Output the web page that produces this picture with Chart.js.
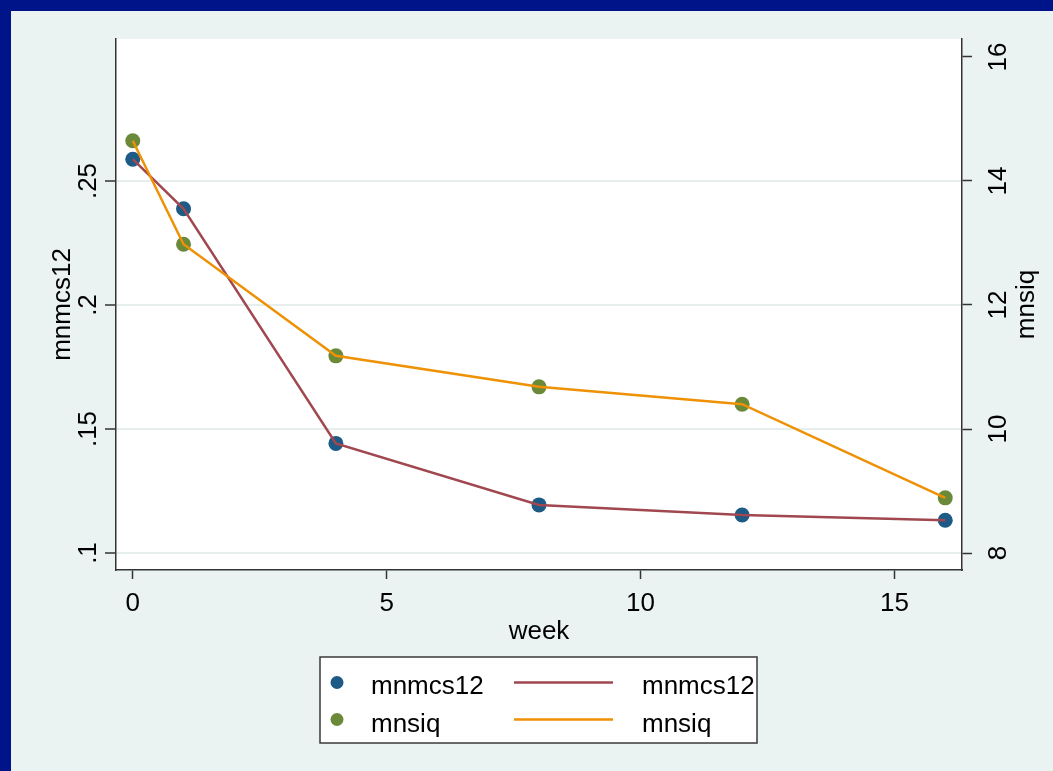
<!DOCTYPE html>
<html>
<head>
<meta charset="utf-8">
<title>mnmcs12 and mnsiq by week</title>
<script src="https://cdn.jsdelivr.net/npm/chart.js@4/dist/chart.umd.min.js"></script>
<style>
  html, body { margin: 0; padding: 0; background: #eaf3f2; }
  #chart { display: block; }
</style>
</head>
<body>
<canvas id="chart" width="1053" height="771"></canvas>
<script>
// Weekly means
const weeks = [0, 1, 4, 8, 12, 16];
const mnmcs12 = [0.2588, 0.2388, 0.1442, 0.1194, 0.1153, 0.1132];
const mnsiq = [14.65, 12.98, 11.18, 10.68, 10.40, 8.89];

// Axis ticks
const weekTicks = [0, 5, 10, 15];
const leftTicks = [0.1, 0.15, 0.2, 0.25];
const leftTickLabels = ['.1', '.15', '.2', '.25'];
const rightTicks = [8, 10, 12, 14, 16];
const rightTickLabels = ['8', '10', '12', '14', '16'];

const FONT = '"Liberation Sans", Arial, Helvetica, sans-serif';
const INK = '#333333';
const COLORS = {
  mcsMarker: '#1d5a86',
  siqMarker: '#6a8a3a',
  mcsLine: '#a0474f',
  siqLine: '#ee9105'
};

const pts = (ys) => weeks.map((w, i) => ({ x: w, y: ys[i] }));

// Page frame: navy strips, pale backdrop, white plot region
const framePlugin = {
  id: 'frame',
  beforeDraw(chart) {
    const { ctx, width, height, chartArea: a } = chart;
    ctx.save();
    ctx.fillStyle = '#eaf3f2';
    ctx.fillRect(0, 0, width, height);
    ctx.fillStyle = '#001489';
    ctx.fillRect(0, 0, 11, height);
    ctx.fillRect(0, 0, width, 11);
    ctx.fillStyle = '#ffffff';
    ctx.fillRect(a.left, a.top, a.right - a.left, a.bottom - a.top);
    ctx.restore();
  }
};

// Vertical tick labels, axis titles and the two-column key
const textPlugin = {
  id: 'texts',
  afterDraw(chart) {
    const { ctx, chartArea: a } = chart;
    const yL = chart.scales.y, yR = chart.scales.y2, x = chart.scales.x;
    ctx.save();
    ctx.fillStyle = '#000';
    ctx.font = '26px ' + FONT;
    ctx.textAlign = 'center';
    ctx.textBaseline = 'alphabetic';

    const vtext = (txt, bx, cy) => {
      ctx.save();
      ctx.translate(bx, cy);
      ctx.rotate(-Math.PI / 2);
      ctx.fillText(txt, 0, 0);
      ctx.restore();
    };

    leftTicks.forEach((v, i) => vtext(leftTickLabels[i], 96, yL.getPixelForValue(v)));
    rightTicks.forEach((v, i) => vtext(rightTickLabels[i], 1006, yR.getPixelForValue(v)));

    const midY = (a.top + a.bottom) / 2;
    vtext('mnmcs12', 70, midY);
    vtext('mnsiq', 1034, midY);
    ctx.fillText('week', (a.left + a.right) / 2, 639);

    // key
    ctx.fillStyle = '#ffffff';
    ctx.fillRect(320, 657, 437, 86);
    ctx.strokeStyle = '#3a3a3a';
    ctx.lineWidth = 1.5;
    ctx.strokeRect(320, 657, 437, 86);

    const ds = chart.data.datasets;
    const rows = [
      { marker: ds[0], line: ds[2], cy: 682.5, base: 694 },
      { marker: ds[1], line: ds[3], cy: 719.5, base: 731.5 }
    ];
    ctx.textAlign = 'left';
    rows.forEach(r => {
      ctx.fillStyle = r.marker.backgroundColor;
      ctx.beginPath();
      ctx.arc(337, r.cy, 6.5, 0, Math.PI * 2);
      ctx.fill();
      ctx.fillStyle = '#000';
      ctx.fillText(r.marker.label, 371, r.base);

      ctx.strokeStyle = r.line.borderColor;
      ctx.lineWidth = 2.5;
      ctx.beginPath();
      ctx.moveTo(514, r.cy);
      ctx.lineTo(613, r.cy);
      ctx.stroke();
      ctx.fillStyle = '#000';
      ctx.fillText(r.line.label, 642, r.base);
    });
    ctx.restore();
  }
};

new Chart(document.getElementById('chart'), {
  type: 'line',
  data: {
    datasets: [
      {
        label: 'mnmcs12', data: pts(mnmcs12), yAxisID: 'y', showLine: false,
        backgroundColor: COLORS.mcsMarker, borderColor: COLORS.mcsMarker,
        pointRadius: 7.5, pointHoverRadius: 7.5, pointBorderWidth: 0, order: 4
      },
      {
        label: 'mnsiq', data: pts(mnsiq), yAxisID: 'y2', showLine: false,
        backgroundColor: COLORS.siqMarker, borderColor: COLORS.siqMarker,
        pointRadius: 7.5, pointHoverRadius: 7.5, pointBorderWidth: 0, order: 3
      },
      {
        label: 'mnmcs12', data: pts(mnmcs12), yAxisID: 'y',
        borderColor: COLORS.mcsLine, backgroundColor: COLORS.mcsLine,
        borderWidth: 2.5, pointRadius: 0, pointHoverRadius: 0, tension: 0, order: 2
      },
      {
        label: 'mnsiq', data: pts(mnsiq), yAxisID: 'y2',
        borderColor: COLORS.siqLine, backgroundColor: COLORS.siqLine,
        borderWidth: 2.5, pointRadius: 0, pointHoverRadius: 0, tension: 0, order: 1
      }
    ]
  },
  options: {
    responsive: false,
    animation: false,
    devicePixelRatio: 1,
    layout: { padding: { top: 39, left: 0, right: 0, bottom: 0 } },
    plugins: { legend: { display: false }, tooltip: { enabled: false } },
    scales: {
      x: {
        type: 'linear', position: 'bottom', min: -0.33, max: 16.33,
        afterBuildTicks: s => { s.ticks = weekTicks.map(v => ({ value: v })); },
        afterFit: s => { s.height = 201; },
        ticks: { color: '#000', font: { family: FONT, size: 26, lineHeight: 1.2 }, padding: 9, maxRotation: 0, callback: v => String(v) },
        grid: { drawOnChartArea: false, tickLength: 9, tickColor: INK, tickWidth: 1.5 },
        border: { display: true, color: INK, width: 1.5 }
      },
      y: {
        type: 'linear', position: 'left', min: 0.09315, max: 0.30726,
        afterBuildTicks: s => { s.ticks = leftTicks.map(v => ({ value: v })); },
        afterFit: s => { s.width = 116; },
        ticks: { display: false },
        grid: { drawOnChartArea: true, color: '#e6efee', lineWidth: 2, tickLength: 11, tickColor: INK, tickWidth: 1.5 },
        border: { display: true, color: INK, width: 1.5 }
      },
      y2: {
        type: 'linear', position: 'right', min: 7.726, max: 16.29,
        afterBuildTicks: s => { s.ticks = rightTicks.map(v => ({ value: v })); },
        afterFit: s => { s.width = 91; },
        ticks: { display: false },
        grid: { drawOnChartArea: false, tickLength: 10, tickColor: INK, tickWidth: 1.5 },
        border: { display: true, color: INK, width: 1.5 }
      }
    }
  },
  plugins: [framePlugin, textPlugin]
});
</script>
</body>
</html>
